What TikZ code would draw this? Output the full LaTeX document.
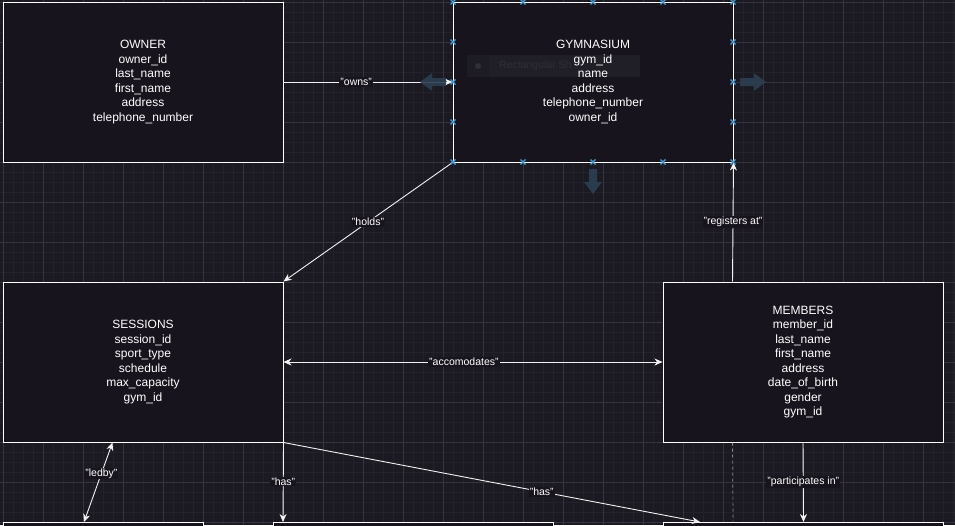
\documentclass[tikz,border=0pt]{standalone}
\usepackage{fontspec}
\setmainfont{Liberation Sans}
\usetikzlibrary{arrows.meta,calc}
\definecolor{bg}{HTML}{1B1921}
\definecolor{boxfill}{HTML}{18141D}
\definecolor{minorgrid}{HTML}{232129}
\definecolor{majorgrid}{HTML}{36343C}
\definecolor{linec}{HTML}{F2F2F2}
\definecolor{markc}{HTML}{4A9FD8}
\definecolor{hoverc}{HTML}{2B3F52}
\definecolor{tipbg}{HTML}{201F28}
\definecolor{tipside}{HTML}{1D1C25}
\definecolor{tiptext}{HTML}{302F38}
\tikzset{
  entity/.style={draw=white, fill=boxfill, line width=1pt, minimum width=280pt,
    minimum height=160pt, inner sep=0pt, align=center, text=white,
    font=\fontsize{12}{14.5}\selectfont},
  conn/.style={draw=linec, line width=0.9pt},
  lbl/.style={fill=boxfill, text=white, inner sep=1pt, font=\fontsize{10.5}{12}\selectfont},
  selmark/.style={draw=markc, line width=1.1pt},
  hover/.style={fill=hoverc, opacity=0.9},
  >={Stealth[length=8pt,width=7pt,inset=2.5pt]}
}
\begin{document}
\begin{tikzpicture}[x=1pt,y=-1pt]
\useasboundingbox (0,0) rectangle (955,525);
\fill[bg] (0,0) rectangle (955,525);
\clip (0,0) rectangle (955,525);
% grid
\foreach \x in {3,13,...,953} \draw[minorgrid, line width=0.8pt] (\x,0) -- (\x,525);
\foreach \y in {2,12,...,522} \draw[minorgrid, line width=0.8pt] (0,\y) -- (955,\y);
\foreach \x in {3,43,...,953} \draw[majorgrid, line width=0.9pt] (\x,0) -- (\x,525);
\foreach \y in {2,42,...,522} \draw[majorgrid, line width=0.9pt] (0,\y) -- (955,\y);

% entities
\node[entity] (owner) at (143,82) {OWNER\\owner\_id\\last\_name\\first\_name\\address\\telephone\_number};
\node[entity] (gym) at (593,82) {};
% tooltip behind the text
\fill[tipbg] (467,55) rectangle (640,77);
\fill[tipside] (467,55) rectangle (489,77);
\fill[tiptext] (478,66) circle (3);
\node[anchor=west, text=tiptext, font=\fontsize{10.5}{12}\selectfont, inner sep=0pt] (tip) at (499,66) {Rectangular Sh};
\node[align=center, text=white, inner sep=0pt, font=\fontsize{12}{14.5}\selectfont] (gymtext) at (gym.center)
  {GYMNASIUM\\gym\_id\\name\\address\\telephone\_number\\owner\_id};
\node[entity] (sessions) at (143,362) {SESSIONS\\session\_id\\sport\_type\\schedule\\max\_capacity\\gym\_id};
\node[entity] (members) at (803,362) {MEMBERS\\member\_id\\last\_name\\first\_name\\address\\date\_of\_birth\\gender\\gym\_id};
\node[entity, minimum width=200pt, anchor=north west] (b1) at (3,522) {};
\node[entity, anchor=north west] (b2) at (273,522) {};
\node[entity, anchor=north west] (b3) at (663,522) {};

% connectors
\draw[conn,->] (owner.east) -- (gym.west) node[lbl, pos=0.43] {"owns"};
\draw[conn,->] (gym.south west) -- (sessions.north east) node[lbl, pos=0.5] {"holds"};
\draw[conn,->] ([xshift=70pt]members.north west) -- (gym.south east) node[lbl, pos=0.5] {"registers at"};
\draw[conn,<->] (sessions.east) -- (members.west) node[lbl, pos=0.476] {"accomodates"};
\draw[conn,<->] ([xshift=110pt]sessions.south west) -- ([xshift=81pt]b1.north west) node[lbl, pos=0.39] {"ledby"};
\draw[conn,->] (sessions.south east) -- ([xshift=10pt]b2.north west) node[lbl, pos=0.49] {"has"};
\draw[conn,->] (sessions.south east) -- ([xshift=37pt]b3.north west) node[lbl, pos=0.62] {"has"};
\draw[draw=white!50!bg, line width=0.7pt, dash pattern=on 3pt off 3pt] ([xshift=70pt]members.south west) -- ([xshift=70pt]b3.north west);
\draw[conn,->] (members.south) -- (b3.north) node[lbl, pos=0.5] {"participates in"};

% selection markers on GYMNASIUM
\foreach \x in {453,523,593,663,733} {
  \draw[selmark] (\x-2.5,2-2.5) -- (\x+2.5,2+2.5) (\x-2.5,2+2.5) -- (\x+2.5,2-2.5);
  \draw[selmark] (\x-2.5,162-2.5) -- (\x+2.5,162+2.5) (\x-2.5,162+2.5) -- (\x+2.5,162-2.5);
}
\foreach \x in {453,733} \foreach \y in {42,82,122} {
  \draw[selmark] (\x-2.5,\y-2.5) -- (\x+2.5,\y+2.5) (\x-2.5,\y+2.5) -- (\x+2.5,\y-2.5);
}
% hover arrows
\fill[hover] (420,82) -- (432,73) -- (432,78) -- (446,78) -- (446,86) -- (432,86) -- (432,91) -- cycle;
\fill[hover] (766,82) -- (754,73) -- (754,78) -- (740,78) -- (740,86) -- (754,86) -- (754,91) -- cycle;
\fill[hover] (593,194) -- (584,182) -- (589,182) -- (589,169) -- (597,169) -- (597,182) -- (602,182) -- cycle;
\end{tikzpicture}
\end{document}
